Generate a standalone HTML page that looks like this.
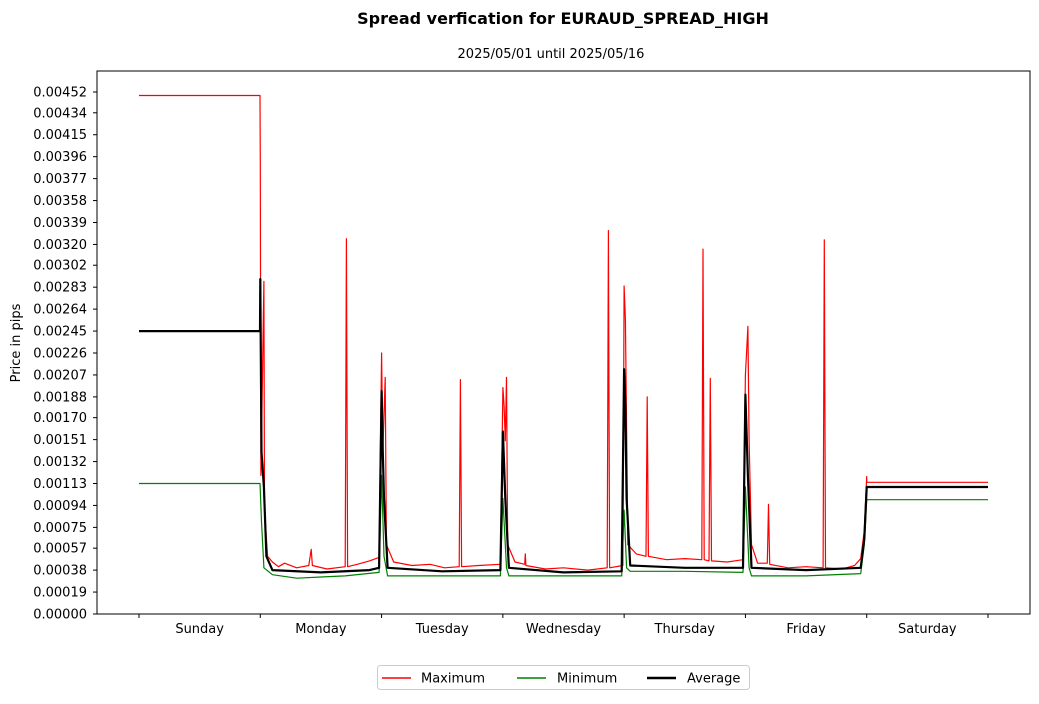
<!DOCTYPE html>
<html><head><meta charset="utf-8"><style>
body{margin:0;background:#fff;font-family:"DejaVu Sans","Liberation Sans",sans-serif;}
svg text{font-family:"DejaVu Sans","Liberation Sans",sans-serif;}
</style></head><body>
<svg id="chart" width="1039" height="700" xmlns="http://www.w3.org/2000/svg">
<rect width="1039" height="700" fill="#fff"/>
<text x="563" y="24" text-anchor="middle" font-size="16" font-weight="bold">Spread verfication for EURAUD_SPREAD_HIGH</text>
<text x="551" y="58" text-anchor="middle" font-size="13">2025/05/01 until 2025/05/16</text>
<text transform="translate(20,343) rotate(-90)" text-anchor="middle" font-size="13">Price in pips</text>
<g id="yaxis"></g>
<g id="xaxis"></g>
<g id="series"></g>
<rect x="97" y="71" width="933" height="543" fill="none" stroke="#000" stroke-width="1"/>
<g>
<rect x="377.5" y="665.5" width="372" height="24" rx="3" fill="#fff" stroke="#ccc"/>
<line x1="382" y1="678" x2="411" y2="678" stroke="red" stroke-width="1.5"/>
<text x="421" y="682.5" font-size="13">Maximum</text>
<line x1="517" y1="678" x2="546" y2="678" stroke="green" stroke-width="1.5"/>
<text x="557" y="682.5" font-size="13">Minimum</text>
<line x1="647" y1="678" x2="676" y2="678" stroke="#000" stroke-width="2.5"/>
<text x="687" y="682.5" font-size="13">Average</text>
</g>
</svg>
<script>
const dayLabels=["Sunday","Monday","Tuesday","Wednesday","Thursday","Friday","Saturday"];
const yTickLabels=["0.00000","0.00019","0.00038","0.00057","0.00075","0.00094","0.00113","0.00132","0.00151","0.00170","0.00188","0.00207","0.00226","0.00245","0.00264","0.00283","0.00302","0.00320","0.00339","0.00358","0.00377","0.00396","0.00415","0.00434","0.00452"];
const maxSeries=[[0,0.00449],[0.998,0.00449],[1.0,0.00388],[1.005,0.0012],[1.03,0.00288],[1.035,0.0009],[1.06,0.0005],[1.1,0.00045],[1.15,0.00041],[1.2,0.00044],[1.3,0.0004],[1.4,0.00042],[1.42,0.00056],[1.43,0.00042],[1.55,0.00039],[1.7,0.00041],[1.71,0.00325],[1.72,0.00041],[1.8,0.00043],[1.9,0.00046],[1.98,0.00049],[2.0,0.00226],[2.01,0.0014],[2.03,0.00205],[2.04,0.0006],[2.1,0.00045],[2.25,0.00042],[2.4,0.00043],[2.52,0.0004],[2.64,0.00041],[2.65,0.00203],[2.66,0.00041],[2.8,0.00042],[2.98,0.00043],[3.0,0.00196],[3.01,0.0018],[3.02,0.0015],[3.03,0.00205],[3.04,0.0006],[3.1,0.00045],[3.18,0.00043],[3.185,0.00052],[3.19,0.00042],[3.35,0.00039],[3.5,0.0004],[3.7,0.00038],[3.86,0.0004],[3.87,0.00332],[3.88,0.0004],[3.99,0.00042],[4.0,0.00284],[4.01,0.00255],[4.02,0.0016],[4.03,0.0006],[4.1,0.00052],[4.18,0.0005],[4.19,0.00188],[4.2,0.0005],[4.35,0.00047],[4.5,0.00048],[4.64,0.00047],[4.65,0.00316],[4.66,0.00047],[4.7,0.00046],[4.71,0.00204],[4.72,0.00046],[4.85,0.00045],[4.98,0.00047],[5.0,0.00207],[5.02,0.00249],[5.03,0.0015],[5.05,0.0006],[5.1,0.00044],[5.18,0.00044],[5.19,0.00095],[5.2,0.00043],[5.35,0.0004],[5.5,0.00041],[5.64,0.0004],[5.65,0.00324],[5.66,0.0004],[5.8,0.00039],[5.9,0.00042],[5.95,0.00048],[5.98,0.00072],[6.0,0.00119],[6.001,0.00114],[7,0.00114]];
const minSeries=[[0,0.00113],[0.998,0.00113],[1.01,0.0008],[1.03,0.0004],[1.1,0.00034],[1.3,0.00031],[1.5,0.00032],[1.7,0.00033],[1.98,0.00036],[2.0,0.0012],[2.02,0.0005],[2.05,0.00033],[2.5,0.00033],[2.98,0.00033],[3.0,0.0010],[3.03,0.0004],[3.05,0.00033],[3.5,0.00033],[3.98,0.00033],[4.0,0.0009],[4.02,0.0004],[4.05,0.00037],[4.5,0.00037],[4.98,0.00036],[5.0,0.0011],[5.03,0.0004],[5.05,0.00033],[5.5,0.00033],[5.95,0.00035],[5.98,0.0006],[6.0,0.00099],[7,0.00099]];
const avgSeries=[[0,0.00245],[0.998,0.00245],[1.0,0.0029],[1.01,0.0014],[1.03,0.0011],[1.05,0.0005],[1.1,0.00038],[1.5,0.00036],[1.9,0.00038],[1.98,0.0004],[2.0,0.00193],[2.01,0.0014],[2.02,0.001],[2.05,0.0004],[2.5,0.00037],[2.98,0.00038],[3.0,0.00158],[3.02,0.001],[3.05,0.0004],[3.5,0.00036],[3.98,0.00037],[4.0,0.00212],[4.01,0.0018],[4.02,0.001],[4.05,0.00042],[4.5,0.0004],[4.98,0.0004],[5.0,0.0019],[5.02,0.0012],[5.05,0.0004],[5.5,0.00038],[5.95,0.0004],[5.98,0.00065],[6.0,0.0011],[7,0.0011]];
const NS="http://www.w3.org/2000/svg";
const x=t=>139+t*(849/7);
const y=v=>614-v*(522/0.00452);
const ya=document.getElementById('yaxis');
yTickLabels.forEach(l=>{const v=parseFloat(l);const py=y(v);
const tk=document.createElementNS(NS,'line');


tk.setAttribute('x1',93);tk.setAttribute('x2',97);tk.setAttribute('y1',py);tk.setAttribute('y2',py);tk.setAttribute('stroke','#000');ya.appendChild(tk);
const tx=document.createElementNS(NS,'text');


tx.setAttribute('x',87);tx.setAttribute('y',py+4.5);tx.setAttribute('text-anchor','end');tx.setAttribute('font-size','13');tx.textContent=l;ya.appendChild(tx);});
const xa=document.getElementById('xaxis');
for(let i=0;i<=7;i++){const tk=document.createElementNS(NS,'line');


tk.setAttribute('x1',x(i));tk.setAttribute('x2',x(i));tk.setAttribute('y1',614);tk.setAttribute('y2',618);tk.setAttribute('stroke','#000');xa.appendChild(tk);}
dayLabels.forEach((d,i)=>{const tx=document.createElementNS(NS,'text');


tx.setAttribute('x',x(i+0.5));tx.setAttribute('y',633);tx.setAttribute('text-anchor','middle');tx.setAttribute('font-size','13');tx.textContent=d;xa.appendChild(tx);});
const sg=document.getElementById('series');
function draw(data,color,w,name){const p=document.createElementNS(NS,'polyline');


p.setAttribute('points',data.map(d=>x(d[0]).toFixed(1)+','+y(d[1]).toFixed(1)).join(' '));
p.setAttribute('fill','none');p.setAttribute('stroke',color);p.setAttribute('stroke-width',w);p.setAttribute('stroke-linejoin','round');sg.appendChild(p);}
draw(maxSeries,'red',1.2,'maximum-line');
draw(minSeries,'green',1.2,'minimum-line');
draw(avgSeries,'#000',2.2,'average-line');
</script>
</body></html>
